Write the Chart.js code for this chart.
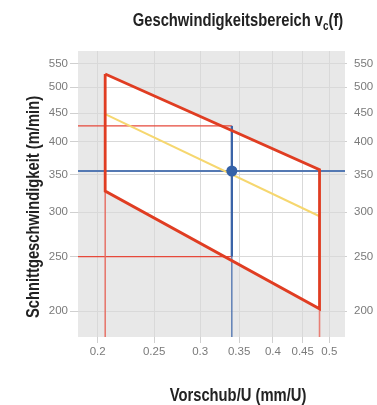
<!DOCTYPE html>
<html>
<head>
<meta charset="utf-8">
<script src="https://cdn.jsdelivr.net/npm/chart.js@4"></script>
<style>
  html, body { margin: 0; padding: 0; background: #fff; }
  #wrap { width: 377px; height: 405px; }
</style>
</head>
<body>
<div id="wrap"><canvas id="speed-chart" width="377" height="405"></canvas></div>
<script>
// Tick labels
const xTicks = [0.2, 0.25, 0.3, 0.35, 0.4, 0.45, 0.5];
const yTicks = [200, 250, 300, 350, 400, 450, 500, 550];
const xRange = [0.185, 0.532];
const yRange = [180, 580];

// Working range (feed f, cutting speed vc)
const feedRange = [0.206, 0.481];
const speedUpper = [528, 357];
const speedLower = [327, 202];
const speedRecommended = [448, 295];

// Working point
const workFeed = 0.34;
const workSpeed = 355;
const speedAtWork = [250, 427]; // lower / upper limit at working feed

const grayBg = '#e8e8e8';
const gridColor = '#d9d9d9';

function segment(points, color, width, order) {
    return {
        data: points,
        showLine: true,
        borderColor: color,
        borderWidth: width,
        pointRadius: 0,
        pointHoverRadius: 0,
        fill: false,
        order: order
    };
}

// Gray plot area with white working range polygon
const backgroundPlugin = {
    id: 'background',
    beforeDraw(chart) {
        const ctx = chart.ctx;
        const area = chart.chartArea;
        const x = chart.scales.x, y = chart.scales.y;
        ctx.save();
        ctx.fillStyle = grayBg;
        ctx.fillRect(area.left, area.top, area.right - area.left, area.bottom - area.top);
        ctx.beginPath();
        ctx.moveTo(x.getPixelForValue(feedRange[0]), y.getPixelForValue(speedUpper[0]));
        ctx.lineTo(x.getPixelForValue(feedRange[1]), y.getPixelForValue(speedUpper[1]));
        ctx.lineTo(x.getPixelForValue(feedRange[1]), y.getPixelForValue(speedLower[1]));
        ctx.lineTo(x.getPixelForValue(feedRange[0]), y.getPixelForValue(speedLower[0]));
        ctx.closePath();
        ctx.fillStyle = '#ffffff';
        ctx.fill();
        ctx.restore();
    }
};

// Condensed bold labels (narrow look)
function drawLabel(ctx, parts, cx, baseline, rotate) {
    const squeeze = 0.82;
    ctx.save();
    ctx.translate(cx, baseline);
    if (rotate) ctx.rotate(-Math.PI / 2);
    ctx.scale(squeeze, 1);
    let total = 0;
    parts.forEach(p => {
        ctx.font = 'bold ' + p.size + 'px "Liberation Sans", Arial, sans-serif';
        p.w = ctx.measureText(p.text).width;
        total += p.w;
    });
    let pos = -total / 2;
    ctx.fillStyle = '#222';
    ctx.textBaseline = 'alphabetic';
    ctx.textAlign = 'left';
    parts.forEach(p => {
        ctx.font = 'bold ' + p.size + 'px "Liberation Sans", Arial, sans-serif';
        ctx.fillText(p.text, pos, p.dy || 0);
        pos += p.w;
    });
    ctx.restore();
}

const labelsPlugin = {
    id: 'labels',
    afterDraw(chart) {
        const ctx = chart.ctx;
        drawLabel(ctx, [
            {text: 'Geschwindigkeitsbereich v', size: 18},
            {text: 'c', size: 12, dy: 4},
            {text: '(f)', size: 18}
        ], 238, 26, false);
        drawLabel(ctx, [{text: 'Vorschub/U (mm/U)', size: 18}], 238, 401, false);
        drawLabel(ctx, [{text: 'Schnittgeschwindigkeit (m/min)', size: 18}], 39, 207, true);
    }
};

const tickFont = {family: '"Liberation Sans", Arial, sans-serif', size: 11.5};

function fixedTicks(values) {
    return function(scale) {
        scale.ticks = values.map(v => ({value: v}));
    };
}

let speedChart = new Chart(document.getElementById('speed-chart').getContext('2d'), {
    type: 'scatter',
    data: {
        datasets: [
            segment([{x: xRange[0], y: speedAtWork[1]}, {x: workFeed, y: speedAtWork[1]}], '#e6493b', 1.2, 9),
            segment([{x: xRange[0], y: speedAtWork[0]}, {x: workFeed, y: speedAtWork[0]}], '#e6493b', 1.2, 9),
            segment([{x: feedRange[0], y: yRange[0]}, {x: feedRange[0], y: speedLower[0]}], '#e66a5e', 1.4, 8),
            segment([{x: feedRange[1], y: yRange[0]}, {x: feedRange[1], y: speedLower[1]}], '#e87f75', 1.6, 8),
            segment([{x: xRange[0], y: workSpeed}, {x: xRange[1], y: workSpeed}], '#5479b3', 1.8, 7),
            segment([{x: workFeed, y: yRange[0]}, {x: workFeed, y: speedAtWork[0]}], '#4a70ad', 1.3, 6),
            segment([{x: workFeed, y: speedAtWork[0]}, {x: workFeed, y: speedAtWork[1]}], '#3b64a8', 2.3, 6),
            segment([{x: feedRange[0], y: speedRecommended[0]}, {x: feedRange[1], y: speedRecommended[1]}], '#f6d76f', 2, 5),
            segment([
                {x: feedRange[0], y: speedUpper[0]},
                {x: feedRange[1], y: speedUpper[1]},
                {x: feedRange[1], y: speedLower[1]},
                {x: feedRange[0], y: speedLower[0]},
                {x: feedRange[0], y: speedUpper[0]}
            ], '#e03d22', 2.8, 4),
            {
                data: [{x: workFeed, y: workSpeed}],
                pointRadius: 5.5,
                pointBackgroundColor: '#3461a8',
                pointBorderWidth: 0,
                showLine: false,
                order: 1
            }
        ]
    },
    options: {
        responsive: false,
        animation: false,
        layout: {padding: {top: 51, left: 0, right: 0, bottom: 0}},
        plugins: {
            legend: {display: false},
            tooltip: {enabled: false},
            title: {display: false}
        },
        elements: {line: {borderJoinStyle: 'miter', borderCapStyle: 'butt', tension: 0}},
        scales: {
            x: {
                type: 'logarithmic',
                min: xRange[0],
                max: xRange[1],
                afterBuildTicks: fixedTicks(xTicks),
                afterFit(scale) { scale.height = 68; },
                border: {display: false},
                grid: {color: gridColor, tickColor: '#d0d0d0', tickLength: 6, lineWidth: 1},
                ticks: {
                    autoSkip: false,
                    maxRotation: 0,
                    padding: 2,
                    color: '#7a7a7a',
                    font: tickFont,
                    callback: v => String(v)
                }
            },
            y: {
                type: 'logarithmic',
                position: 'left',
                min: yRange[0],
                max: yRange[1],
                afterBuildTicks: fixedTicks(yTicks),
                afterFit(scale) { scale.width = 78; },
                border: {display: false},
                grid: {color: gridColor, tickColor: '#d0d0d0', tickLength: 8, lineWidth: 1},
                ticks: {
                    autoSkip: false,
                    padding: 2,
                    color: '#7a7a7a',
                    font: tickFont,
                    callback: v => String(v)
                }
            },
            y2: {
                type: 'logarithmic',
                position: 'right',
                min: yRange[0],
                max: yRange[1],
                afterBuildTicks: fixedTicks(yTicks),
                afterFit(scale) { scale.width = 32; },
                border: {display: false},
                grid: {drawOnChartArea: false, tickColor: '#d0d0d0', tickLength: 2},
                ticks: {
                    autoSkip: false,
                    padding: 7,
                    color: '#7a7a7a',
                    font: tickFont,
                    callback: v => String(v)
                }
            }
        }
    },
    plugins: [backgroundPlugin, labelsPlugin]
});
</script>
</body>
</html>
